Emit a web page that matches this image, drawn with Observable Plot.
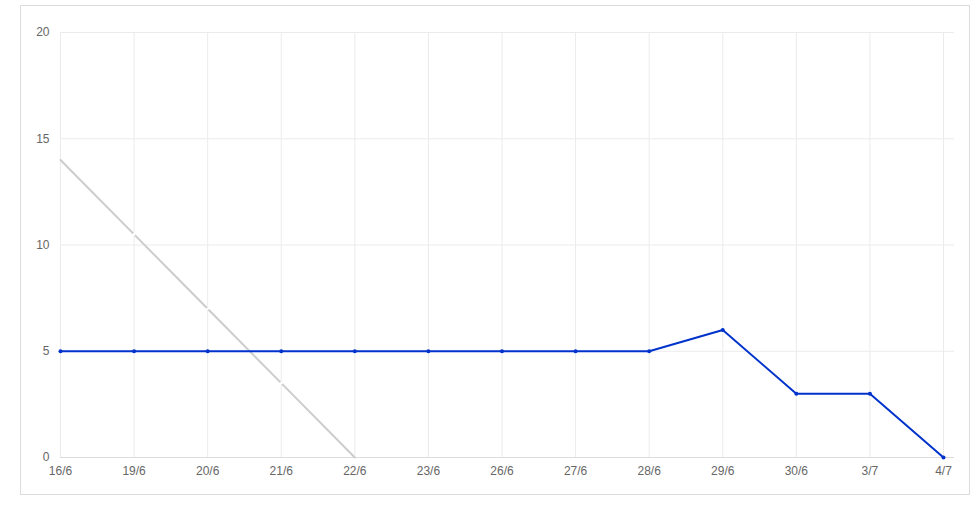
<!DOCTYPE html>
<html>
<head>
<meta charset="utf-8">
<script src="https://cdn.jsdelivr.net/npm/d3@7"></script>
<script src="https://cdn.jsdelivr.net/npm/@observablehq/plot@0.6"></script>
<style>
  html, body { margin: 0; padding: 0; background: #fff; }
  #wrap { position: relative; width: 979px; height: 507px; }
  #box { position: absolute; left: 20px; top: 5px; width: 948px; height: 488px; border: 1px solid #dcdcdc; }
  #chart { position: absolute; left: 0; top: 0; }
</style>
</head>
<body>
<div id="wrap"><div id="box"></div><div id="chart"></div></div>
<script>
const dates = ["16/6","19/6","20/6","21/6","22/6","23/6","26/6","27/6","28/6","29/6","30/6","3/7","4/7"];
const actual = [5,5,5,5,5,5,5,5,5,6,3,3,0];
const idealDates = ["16/6","19/6","20/6","21/6","22/6"];
const ideal = [14,10.5,7,3.5,0];
const yTicks = [0,5,10,15,20];

const actualData = dates.map((d,i) => ({date: d, value: actual[i]}));
const idealData = idealDates.map((d,i) => ({date: d, value: ideal[i]}));

const chart = Plot.plot({
  width: 979,
  height: 507,
  marginLeft: 60,
  marginRight: 25,
  marginTop: 32,
  marginBottom: 50,
  style: {fontFamily: "'Liberation Sans', Arial, sans-serif", fontSize: "12px", color: "#666", background: "transparent"},
  x: {type: "point", domain: dates, range: [60, 943], padding: 0, round: false, label: null},
  y: {domain: [0, 20], range: [457, 32], label: null},
  marks: [
    Plot.gridY(yTicks, {stroke: "#ebebeb", strokeOpacity: 1}),
    Plot.gridX(dates, {stroke: "#ebebeb", strokeOpacity: 1}),
    Plot.ruleY([0], {stroke: "#dcdcdc"}),
    Plot.axisY(yTicks, {tickSize: 0, tickPadding: 11, fill: "#666", fontSize: 12}),
    Plot.axisX(dates, {tickSize: 0, tickPadding: 9, fill: "#666", fontSize: 12}),
    Plot.line(idealData, {x: "date", y: "value", stroke: "#cccccc", strokeWidth: 2}),
    Plot.dot(idealData.slice(1, -1), {x: "date", y: "value", r: 1.3, fill: "#fff", stroke: "none"}),
    Plot.line(actualData, {x: "date", y: "value", stroke: "#0033cc", strokeWidth: 2}),
    Plot.dot(actualData, {x: "date", y: "value", r: 2, fill: "#0033cc", stroke: "none"})
  ]
});
document.getElementById("chart").appendChild(chart);
</script>
</body>
</html>
